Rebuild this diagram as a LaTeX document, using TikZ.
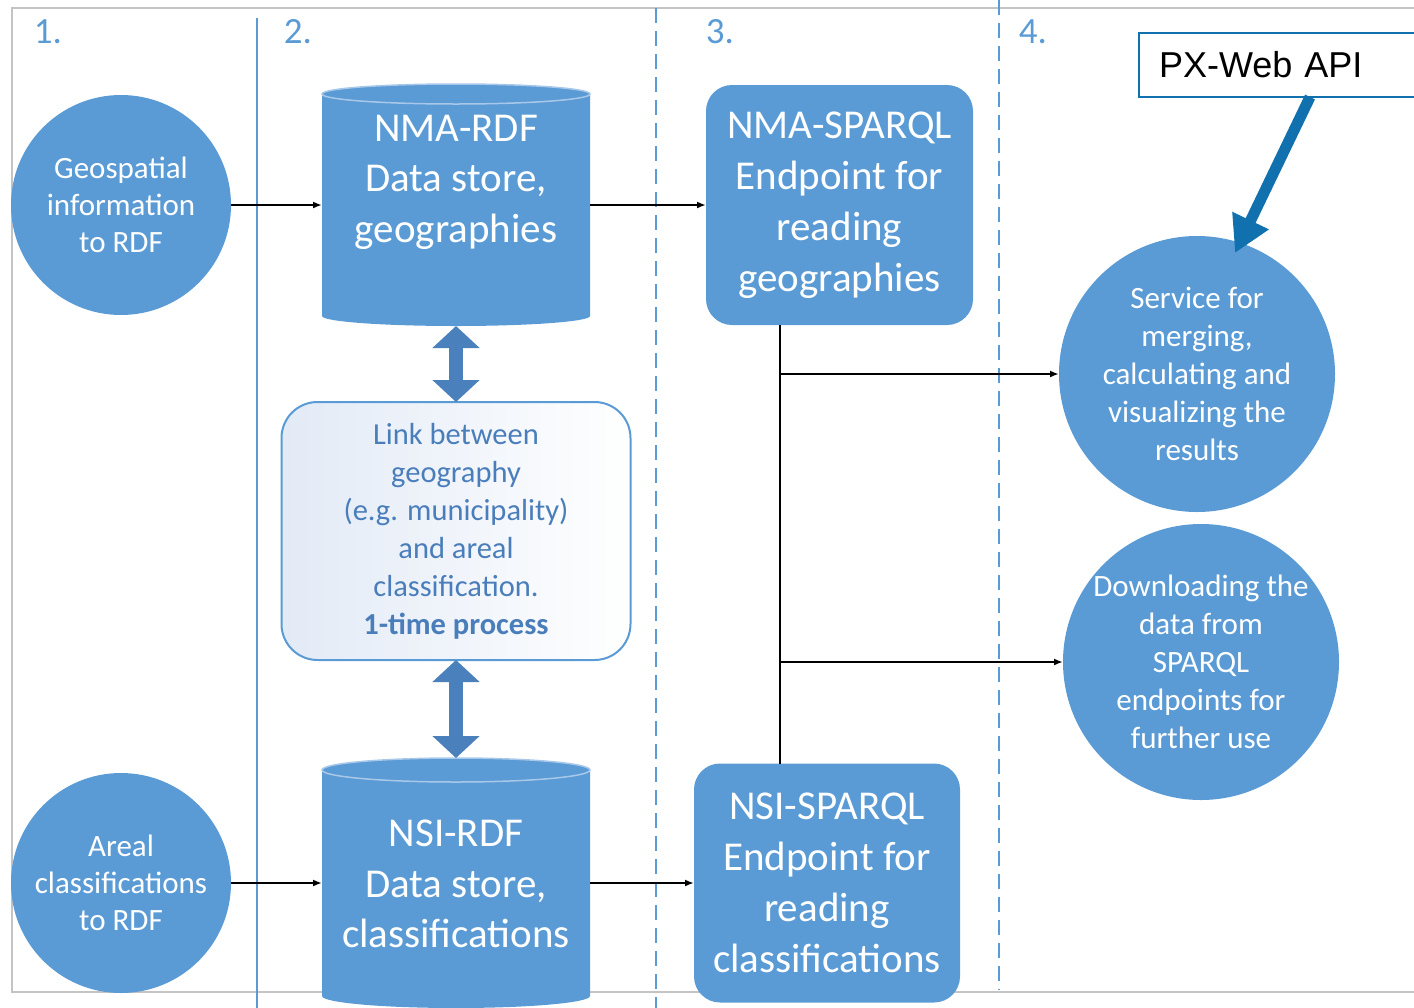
\documentclass[tikz,border=0pt]{standalone}
\usepackage{fontspec}
\setmainfont{Carlito}
\newfontfamily\arialfont{Liberation Sans}
\usetikzlibrary{arrows.meta,calc}

\definecolor{boxblue}{HTML}{5B9BD5}
\definecolor{rimblue}{HTML}{A8C8EA}
\definecolor{linkblue}{HTML}{4A7EBB}
\definecolor{dblarrow}{HTML}{4A80BC}
\definecolor{pxblue}{HTML}{1170AE}
\definecolor{framegray}{HTML}{C4C4C4}
\definecolor{linkshade}{HTML}{E2EAF6}

\pgfdeclarelayer{back}
\pgfdeclarelayer{body}
\pgfsetlayers{back,body,main}

% cylinder body around a rectangular node: #1 node, #2 x radius, #3 y radius
\newcommand\cylbody[3]{%
  \begin{pgfonlayer}{body}
    \fill[boxblue] (#1.north west) -- (#1.south west)
      arc[start angle=180, end angle=0, x radius=#2, y radius=#3]
      -- (#1.north east)
      arc[start angle=0, end angle=-180, x radius=#2, y radius=#3] -- cycle;
    \draw[rimblue, line width=1.5, fill=boxblue] (#1.north) ellipse[x radius=#2, y radius=#3];
  \end{pgfonlayer}}

\begin{document}
\begin{tikzpicture}[x=1pt, y=-1pt,
  every node/.style={inner sep=0pt, outer sep=0pt},
  phase/.style={text=boxblue, font=\fontsize{37}{44}\selectfont},
  proc/.style={circle, fill=boxblue, text=white, align=center,
    font=\fontsize{31}{37}\selectfont},
  service/.style={proc, minimum size=276, font=\fontsize{31}{38}\selectfont},
  store/.style={rectangle, minimum width=268, text=white, align=center,
    font=\fontsize{41}{50.5}\selectfont},
  endpoint/.style={rectangle, rounded corners=26, fill=boxblue, text=white,
    align=center, minimum width=267, minimum height=240,
    font=\fontsize{41}{51}\selectfont},
  linkbox/.style={rectangle, rounded corners=36, draw=boxblue, line width=2,
    left color=linkshade, right color=white, minimum width=349,
    minimum height=258, text=linkblue, align=center,
    font=\fontsize{30.5}{38}\selectfont},
  pxbox/.style={rectangle, draw=pxblue, line width=2, fill=white,
    minimum height=64, text width=252, inner xsep=20, align=left,
    font=\arialfont\fontsize{36}{40}\selectfont},
  flow/.style={line width=2.2, -{Latex[length=9pt, width=7pt]}},
  twoway/.style={dblarrow, line width=14,
    {Triangle[width=46pt, length=22pt]}-{Triangle[width=46pt, length=22pt]}},
  pxarrow/.style={pxblue, line width=11, -{Triangle[width=38pt, length=36pt]}},
  phaseline/.style={boxblue, line width=2},
  phasedash/.style={boxblue, line width=2, dash pattern=on 15pt off 8pt}
]
\useasboundingbox (0,0) rectangle (1414,1007);

% frame and phase separators
\begin{pgfonlayer}{back}
  \draw[framegray, line width=2] (1424,8) -- (12,8) -- (12,992) -- (1424,992);
  \draw[phaseline] (257,18) -- (257,1010);
  \draw[phasedash] (656,8) -- (656,1010);
  \draw[phasedash] (999,0) -- (999,990);
\end{pgfonlayer}

\node[phase] (p1) at (48,32) {1.};
\node[phase] (p2) at (298,32) {2.};
\node[phase] (p3) at (720,32) {3.};
\node[phase] (p4) at (1033,32) {4.};

% phase 1: conversion to RDF
\node[proc, minimum size=220] (geo) at (121,205) {Geospatial\\information\\to RDF};
\node[proc, minimum size=220] (areal) at (121,883) {Areal\\classifications\\to RDF};

% phase 2: data stores and the link between them
\node[store, minimum height=222] (nmardf) at (456,205) {};
\cylbody{nmardf}{134}{10}
\node[store] (nmardftext) at (456,182) {NMA-RDF\\Data store,\\geographies};

\node[store, minimum height=226] (nsirdf) at (456,883) {};
\cylbody{nsirdf}{134}{12}
\node[store] (nsirdftext) at (456,884) {NSI-RDF\\Data store,\\classifications};

\node[linkbox] (link) at (456,531) {Link between\\geography\\(e.g. municipality)\\and areal\\classification.\\\textbf{1-time process}};

\draw[twoway] ($(nmardf.south)+(0,10)$) -- (link.north);
\draw[twoway] (link.south) -- ($(nsirdf.north)+(0,-12)$);

% phase 3: SPARQL endpoints
\node[endpoint] (nmasparql) at (839.5,205) {NMA-SPARQL\\Endpoint for\\reading\\geographies};
\node[endpoint, minimum width=266, minimum height=239] (nsisparql) at (827,883) {NSI-SPARQL\\Endpoint for\\reading\\classifications};

% phase 4: services
\node[service] (service) at (1197,374) {Service for\\merging,\\calculating and\\visualizing the\\results};
\node[service] (download) at (1201,662) {Downloading the\\data from\\SPARQL\\endpoints for\\further use};

\node[pxbox, anchor=west] (px) at (1139,65) {PX-Web API};

% connectors
\draw[flow] (geo) -- (nmardf);
\draw[flow] (nmardf) -- (nmasparql);
\draw[flow] (areal) -- (nsirdf);
\draw[flow] (nsirdf) -- (nsisparql);

\coordinate (jA) at (780,374);
\coordinate (jB) at (780,662);
\draw[line width=2.2] (jA |- nmasparql.south) -- (jB |- nsisparql.north);
\draw[flow] (jA) -- (service.west |- jA);
\draw[flow] (jB) -- (download.west |- jB);

\coordinate (pxtip) at (1235,253);
\draw[pxarrow] ($(px.south west)+(171,0)$) -- (pxtip);
\end{tikzpicture}
\end{document}
